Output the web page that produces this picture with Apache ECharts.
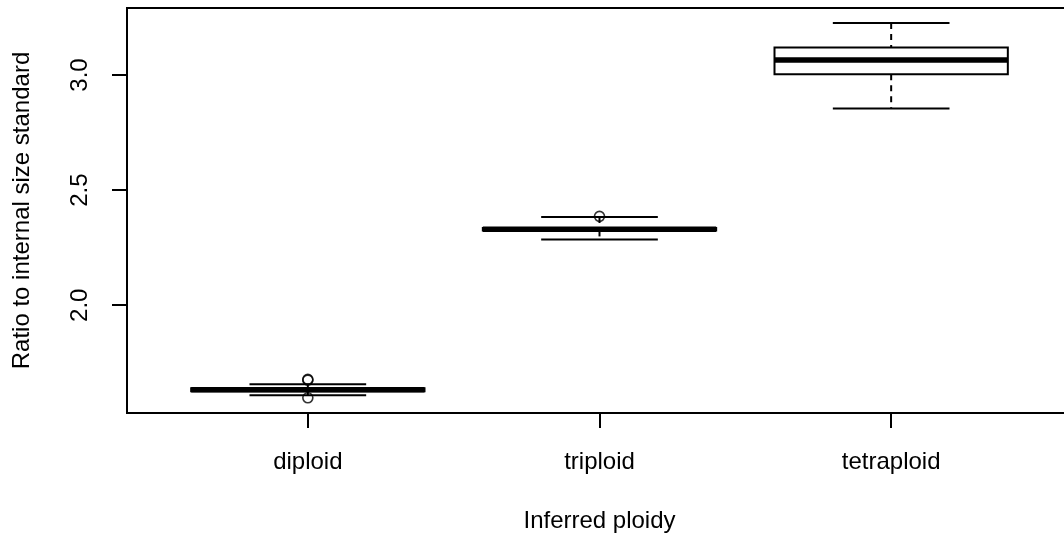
<!DOCTYPE html>
<html>
<head>
<meta charset="utf-8">
<script src="https://cdn.jsdelivr.net/npm/echarts@6/dist/echarts.min.js"></script>
<style>
html,body{margin:0;padding:0;background:#fff;}
#c{width:1064px;height:540px;}
</style>
</head>
<body>
<div id="c"></div>
<script>
var categories = ['diploid', 'triploid', 'tetraploid'];
var lowerWhisker = [1.609, 2.286, 2.855];
var q1Values = [1.627, 2.325, 3.003];
var medians = [1.633, 2.330, 3.065];
var q3Values = [1.639, 2.335, 3.119];
var upperWhisker = [1.657, 2.383, 3.226];
var outlierCategory = [1, 1, 1, 2];
var outlierValues = [1.678, 1.675, 1.598, 2.386];
var yTicks = [2.0, 2.5, 3.0];
var xTitle = 'Inferred ploidy';
var yTitle = 'Ratio to internal size standard';

var boxData = categories.map(function (c, i) {
  return [i + 1, lowerWhisker[i], q1Values[i], medians[i], q3Values[i], upperWhisker[i]];
});
var outlierData = outlierValues.map(function (v, i) { return [outlierCategory[i], v]; });

var FONT = 'Liberation Sans, Arial, sans-serif';
var LW = 2;

var chart = echarts.init(document.getElementById('c'), null, {renderer: 'canvas'});
chart.setOption({
  backgroundColor: '#ffffff',
  animation: false,
  grid: {
    left: 127, top: 8, width: 945, height: 405,
    outerBoundsMode: 'none', containLabel: false,
    show: true, borderColor: '#000', borderWidth: LW, backgroundColor: 'transparent'
  },
  xAxis: {
    type: 'value', min: 0.38, max: 3.62,
    splitLine: {show: false},
    axisLine: {show: true, onZero: false, lineStyle: {color: '#000', width: LW}},
    axisTick: {show: true, inside: false, length: 15, customValues: [1, 2, 3], lineStyle: {color: '#000', width: LW}},
    axisLabel: {
      customValues: [1, 2, 3], margin: 37, color: '#000', fontFamily: FONT, fontSize: 24,
      formatter: function (v) { return categories[Math.round(v) - 1] || ''; }
    },
    name: xTitle, nameLocation: 'middle', nameGap: 96,
    nameTextStyle: {color: '#000', fontFamily: FONT, fontSize: 24}
  },
  yAxis: {
    type: 'value', min: 1.532, max: 3.291,
    splitLine: {show: false},
    axisLine: {show: true, onZero: false, lineStyle: {color: '#000', width: LW}},
    axisTick: {show: true, inside: false, length: 15, customValues: yTicks, lineStyle: {color: '#000', width: LW}},
    axisLabel: {
      customValues: yTicks, rotate: 90, margin: 35, color: '#000', fontFamily: FONT, fontSize: 24,
      formatter: function (v) { return Number(v).toFixed(1); }
    },
    name: yTitle, nameLocation: 'middle', nameGap: 93, nameRotate: 90,
    nameTextStyle: {color: '#000', fontFamily: FONT, fontSize: 24}
  },
  series: [
    {
      type: 'custom',
      data: boxData,
      encode: {x: 0, y: [1, 2, 3, 4, 5]},
      renderItem: function (params, api) {
        var x = api.value(0);
        var lw = api.value(1), q1 = api.value(2), md = api.value(3), q3 = api.value(4), uw = api.value(5);
        var pUW = api.coord([x, uw]), pQ3 = api.coord([x, q3]), pQ1 = api.coord([x, q1]), pLW = api.coord([x, lw]);
        var capL = api.coord([x - 0.2, uw])[0], capR = api.coord([x + 0.2, uw])[0];
        var boxL = api.coord([x - 0.4, q3])[0], boxR = api.coord([x + 0.4, q3])[0];
        var pMd = api.coord([x, md]);
        var solid = {stroke: '#000', lineWidth: LW, fill: null};
        var dashed = {stroke: '#000', lineWidth: LW, fill: null, lineDash: [6, 5]};
        return {
          type: 'group',
          children: [
            {type: 'line', shape: {x1: pUW[0], y1: pUW[1], x2: pQ3[0], y2: pQ3[1]}, style: dashed},
            {type: 'line', shape: {x1: pQ1[0], y1: pQ1[1], x2: pLW[0], y2: pLW[1]}, style: dashed},
            {type: 'line', shape: {x1: capL, y1: pUW[1], x2: capR, y2: pUW[1]}, style: solid},
            {type: 'line', shape: {x1: capL, y1: pLW[1], x2: capR, y2: pLW[1]}, style: solid},
            {type: 'rect', shape: {x: boxL, y: pQ3[1], width: boxR - boxL, height: pQ1[1] - pQ3[1]}, style: solid},
            {type: 'line', shape: {x1: boxL, y1: pMd[1], x2: boxR, y2: pMd[1]}, style: {stroke: '#000', lineWidth: 5.5}}
          ]
        };
      },
      z: 2
    },
    {
      type: 'scatter',
      data: outlierData,
      symbol: 'circle',
      symbolSize: 10,
      itemStyle: {color: 'rgba(0,0,0,0)', borderColor: '#000', borderWidth: 1.6},
      z: 3
    }
  ]
});
</script>
</body>
</html>
